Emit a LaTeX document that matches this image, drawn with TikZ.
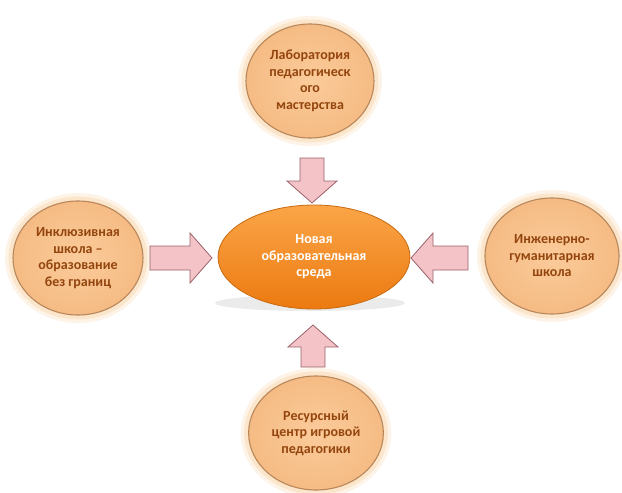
\documentclass[tikz,border=0pt]{standalone}
\usepackage{fontspec}
\setmainfont{Carlito}
\usetikzlibrary{shapes.geometric}
\definecolor{peach}{HTML}{FBCB9A}
\definecolor{peachdark}{HTML}{F5BB84}
\definecolor{peachglow}{HTML}{F8CFA0}
\definecolor{ringc}{HTML}{B8875A}
\definecolor{txtbrown}{HTML}{94450E}
\definecolor{orangeA}{HTML}{FAA548}
\definecolor{orangeB}{HTML}{EC7A10}
\definecolor{orangeedge}{HTML}{C86A10}
\definecolor{pinkfill}{HTML}{F3C3C7}
\definecolor{pinkedge}{HTML}{9A6269}
\newcommand\blockarr[4]{%
  \begin{scope}[shift={(#1,#2)},rotate=#3]
    \path[arrowstyle] (0,-12) -- (#4-22,-12) -- (#4-22,-25) -- (#4,0) -- (#4-22,25) -- (#4-22,12) -- (0,12) -- cycle;
  \end{scope}}
\begin{document}
\begin{tikzpicture}[x=1pt,y=-1pt,
  circ/.style={ellipse, draw=ringc, line width=1.1pt, inner color=peach, outer color=peachdark,
    preaction={draw=peachglow, line width=16pt, draw opacity=0.25},
    preaction={draw=peachglow, line width=9pt, draw opacity=0.4},
    text=txtbrown, font=\bfseries\fontsize{14}{16.5}\selectfont, align=center},
  center/.style={ellipse, draw=orangeedge, line width=0.8pt, top color=orangeA, bottom color=orangeB,
    text=white, font=\bfseries\fontsize{14}{16.5}\selectfont, align=center},
  arrowstyle/.style={fill=pinkfill, draw=pinkedge, line width=0.8pt, line join=miter}]
\useasboundingbox (0,0) rectangle (622,493);
% shadow under the central ellipse
\fill[gray!35, opacity=0.45] (310,303) ellipse [x radius=95, y radius=8];
\node[center, minimum width=192, minimum height=104] (mid) at (314,257) {Новая\\образовательная\\среда};
\node[circ, minimum width=128, minimum height=114] (top) at (310,81) {Лаборатория\\педагогическ\\ого\\мастерства};
\node[circ, minimum width=130, minimum height=114] (left) at (78,258) {Инклюзивная\\школа –\\образование\\без границ};
\node[circ, minimum width=134, minimum height=116] (right) at (552,256) {Инженерно-\\гуманитарная\\школа};
\node[circ, minimum width=128, minimum height=114] (bottom) at (316,433) {Ресурсный\\центр игровой\\педагогики};
\blockarr{312}{158}{-90}{45}
\blockarr{313}{367}{90}{42}
\blockarr{150}{258}{0}{62}
\blockarr{468}{258}{180}{57}
\end{tikzpicture}
\end{document}
